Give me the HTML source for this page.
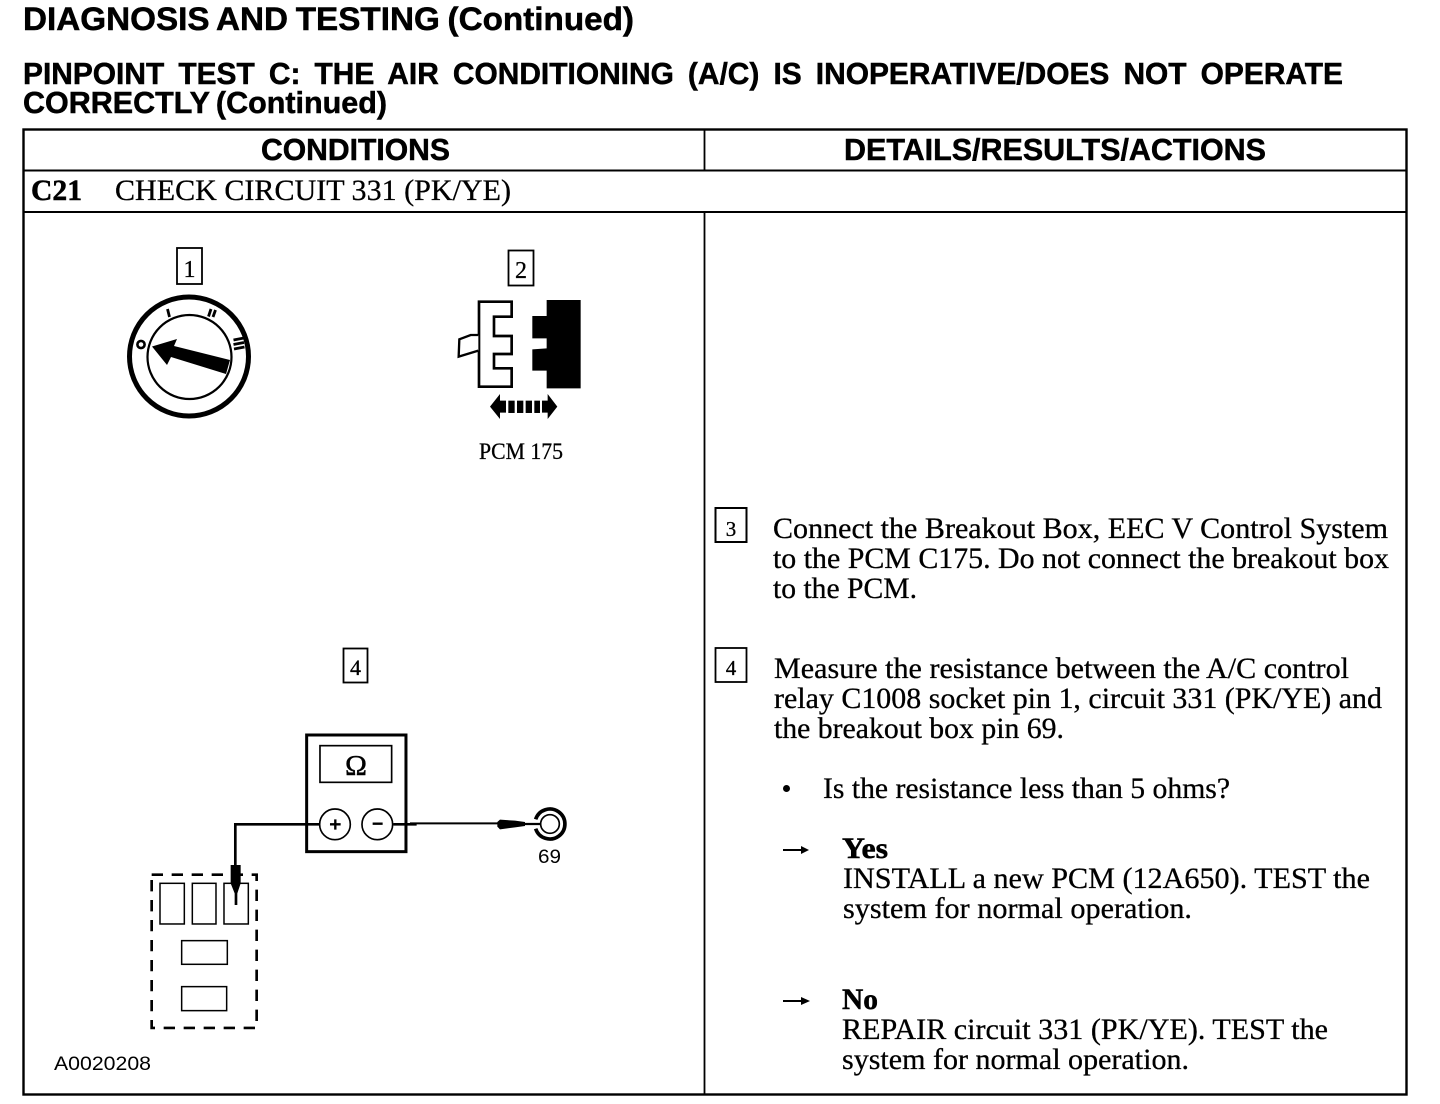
<!DOCTYPE html>
<html lang="en">
<head>
<meta charset="utf-8">
<title>Pinpoint Test C21</title>
<style>
html,body{margin:0;padding:0;background:#fff;width:1440px;height:1104px;overflow:hidden}
svg{display:block}
.h{font-family:"Liberation Sans",sans-serif;font-weight:bold;fill:#000;stroke:#000;stroke-width:.5}
.s{font-family:"Liberation Serif",serif;fill:#000;font-size:30px;stroke:#000;stroke-width:.3}
.b{font-weight:bold;stroke-width:.5}
.a{font-family:"Liberation Sans",sans-serif;fill:#000}
</style>
</head>
<body>
<svg width="1440" height="1104" viewBox="0 0 1440 1104" xmlns="http://www.w3.org/2000/svg">
<rect width="1440" height="1104" fill="#fff"/>

<!-- headings -->
<text class="h" x="23" y="30" font-size="32" word-spacing="-1.5" textLength="611" lengthAdjust="spacingAndGlyphs">DIAGNOSIS AND TESTING (Continued)</text>
<text class="h" x="23" y="84" font-size="31" word-spacing="6" textLength="1320" lengthAdjust="spacingAndGlyphs">PINPOINT TEST C: THE AIR CONDITIONING (A/C) IS INOPERATIVE/DOES NOT OPERATE</text>
<text class="h" x="23" y="113" font-size="31" word-spacing="-2" textLength="364" lengthAdjust="spacingAndGlyphs">CORRECTLY (Continued)</text>

<!-- table frame -->
<g stroke="#000" fill="none">
<rect x="23.5" y="129.5" width="1383" height="965" stroke-width="2.4"/>
<path d="M23 170.5H1407M23 212H1407" stroke-width="2"/>
<path d="M704.5 129V170M704.5 212V1095" stroke-width="1.8"/>
</g>
<text class="h" x="261" y="160" font-size="31" textLength="189" lengthAdjust="spacingAndGlyphs">CONDITIONS</text>
<text class="h" x="844" y="160" font-size="31" textLength="422" lengthAdjust="spacingAndGlyphs">DETAILS/RESULTS/ACTIONS</text>
<text class="s b" x="31" y="200" textLength="51" lengthAdjust="spacingAndGlyphs">C21</text>
<text class="s" x="115" y="200" textLength="396" lengthAdjust="spacingAndGlyphs">CHECK CIRCUIT 331 (PK/YE)</text>

<!-- callout 1 and ignition switch -->
<rect x="177" y="248" width="25" height="36" fill="none" stroke="#000" stroke-width="1.8"/>
<text class="s" x="189.5" y="277" style="font-size:24px" text-anchor="middle">1</text>
<circle cx="189" cy="356.5" r="59.5" fill="none" stroke="#000" stroke-width="5"/>
<circle cx="189.5" cy="357" r="42" fill="none" stroke="#000" stroke-width="2.2"/>
<polygon points="152,346.5 177,339 174,346 230,360 226,374 171,357 167,365" fill="#000"/>
<circle cx="141" cy="344.5" r="3.6" fill="none" stroke="#000" stroke-width="2.6"/>
<g stroke="#000" stroke-width="2.8" fill="none">
<path d="M167.5 309L169.5 317"/>
<path d="M211 309L208.5 316.5M215.5 310L213 317"/>
<path d="M233.5 340L244 338M233.5 344.5L244 342.5M234 349L244.5 347"/>
</g>

<!-- callout 2 and connector -->
<rect x="508.5" y="250.5" width="25" height="35" fill="none" stroke="#000" stroke-width="1.8"/>
<text class="s" x="521" y="278" style="font-size:24px" text-anchor="middle">2</text>
<g transform="translate(440 240) scale(.3333)">
<polygon points="117,185 215,185 215,230 162,230 162,288 215,288 215,342 162,342 162,385 215,385 215,440 117,440" fill="#fff" stroke="#000" stroke-width="8"/>
<path d="M115 285H92L58 298L56 350L115 332" fill="#fff" stroke="#000" stroke-width="7"/>
<polygon points="320,180 422,180 422,445 320,445 320,392 277,392 277,328 320,325 320,295 277,295 277,228 320,228" fill="#000"/>
<polygon points="150,500 180,462 180,482 198,482 198,518 180,518 180,537" fill="#000"/>
<rect x="205" y="482" width="19" height="37" fill="#000"/>
<rect x="231" y="482" width="19" height="37" fill="#000"/>
<rect x="257" y="482" width="19" height="37" fill="#000"/>
<rect x="283" y="482" width="17" height="37" fill="#000"/>
<polygon points="352,500 323,462 323,482 306,482 306,518 323,518 323,537" fill="#000"/>
</g>
<text class="s" x="479" y="459" style="font-size:23px" textLength="84" lengthAdjust="spacingAndGlyphs">PCM 175</text>

<!-- callout 4 (left) -->
<rect x="343.5" y="648.5" width="24" height="34" fill="none" stroke="#000" stroke-width="1.8"/>
<text class="s" x="355.5" y="675" style="font-size:22px" text-anchor="middle">4</text>

<!-- meter, wires, relay socket -->
<g transform="translate(130 720) scale(.3333)">
<rect x="530" y="45" width="298" height="350" fill="#fff" stroke="#000" stroke-width="9"/>
<rect x="570" y="77" width="215" height="110" fill="none" stroke="#000" stroke-width="5"/>
<path d="M316 435V313H570M790 313H860" fill="none" stroke="#000" stroke-width="8"/>
<circle cx="615" cy="313" r="46" fill="#fff" stroke="#000" stroke-width="5"/>
<circle cx="742" cy="313" r="46" fill="#fff" stroke="#000" stroke-width="5"/>
<path d="M600 313H632M616 298V329M728 311H758" stroke="#000" stroke-width="7" fill="none"/>
<rect x="65" y="464" width="315" height="460" fill="none" stroke="#000" stroke-width="8" stroke-dasharray="34 26"/>
<g fill="#fff" stroke="#000" stroke-width="4.5">
<rect x="90" y="490" width="73" height="122"/>
<rect x="187" y="490" width="71" height="122"/>
<rect x="282" y="490" width="73" height="122"/>
<rect x="155" y="662" width="137" height="71"/>
<rect x="155" y="800" width="135" height="72"/>
</g>
<polygon points="302,435 332,435 332,490 322,520 322,555 314,555 314,520 302,490" fill="#000"/>
</g>
<text class="s" x="345" y="775" style="font-size:28px;stroke-width:.4" textLength="22" lengthAdjust="spacingAndGlyphs">Ω</text>

<!-- right lead and pin 69 -->
<g transform="translate(400 790) scale(.3333)">
<path d="M30 100H300" stroke="#000" stroke-width="6" fill="none"/>
<polygon points="292,96 300,89 345,92 375,96 375,108 345,112 300,118 292,110" fill="#000"/>
<path d="M370 102H425" stroke="#000" stroke-width="7" fill="none"/>
<path d="M407 88A45 45 0 1 1 407 116" fill="none" stroke="#000" stroke-width="11"/>
<circle cx="450" cy="102" r="28" fill="#fff" stroke="#000" stroke-width="5"/>
</g>
<text class="a" x="538" y="863" font-size="19" textLength="23" lengthAdjust="spacingAndGlyphs">69</text>
<text class="a" x="54" y="1070" font-size="19" textLength="97" lengthAdjust="spacingAndGlyphs">A0020208</text>

<!-- right column -->
<rect x="715.5" y="508" width="31" height="34" fill="none" stroke="#000" stroke-width="2"/>
<text class="s" x="731" y="536" style="font-size:21px" text-anchor="middle">3</text>
<rect x="715.5" y="648" width="31" height="34" fill="none" stroke="#000" stroke-width="1.8"/>
<text class="s" x="731" y="675" style="font-size:21px" text-anchor="middle">4</text>

<text class="s" x="773" y="538" textLength="615" lengthAdjust="spacingAndGlyphs">Connect the Breakout Box, EEC V Control System</text>
<text class="s" x="773" y="568" textLength="616" lengthAdjust="spacingAndGlyphs">to the PCM C175. Do not connect the breakout box</text>
<text class="s" x="773" y="598" textLength="144" lengthAdjust="spacingAndGlyphs">to the PCM.</text>

<text class="s" x="774" y="678" textLength="575" lengthAdjust="spacingAndGlyphs">Measure the resistance between the A/C control</text>
<text class="s" x="774" y="708" textLength="608" lengthAdjust="spacingAndGlyphs">relay C1008 socket pin 1, circuit 331 (PK/YE) and</text>
<text class="s" x="774" y="738" textLength="290" lengthAdjust="spacingAndGlyphs">the breakout box pin 69.</text>

<circle cx="786.5" cy="788.5" r="3.5" fill="#000"/>
<text class="s" x="823" y="798" textLength="407" lengthAdjust="spacingAndGlyphs">Is the resistance less than 5 ohms?</text>

<path d="M783 850H803" stroke="#000" stroke-width="2"/>
<polygon points="809,850 801,846 801,854" fill="#000"/>
<text class="s b" x="842" y="858" textLength="46" lengthAdjust="spacingAndGlyphs">Yes</text>
<text class="s" x="843" y="888" textLength="527" lengthAdjust="spacingAndGlyphs">INSTALL a new PCM (12A650). TEST the</text>
<text class="s" x="843" y="918" textLength="349" lengthAdjust="spacingAndGlyphs">system for normal operation.</text>

<path d="M783 1001H803" stroke="#000" stroke-width="2"/>
<polygon points="810,1001 801,997 801,1005" fill="#000"/>
<text class="s b" x="842" y="1009" textLength="36" lengthAdjust="spacingAndGlyphs">No</text>
<text class="s" x="842" y="1039" textLength="486" lengthAdjust="spacingAndGlyphs">REPAIR circuit 331 (PK/YE). TEST the</text>
<text class="s" x="842" y="1069" textLength="347" lengthAdjust="spacingAndGlyphs">system for normal operation.</text>
</svg>
</body>
</html>
